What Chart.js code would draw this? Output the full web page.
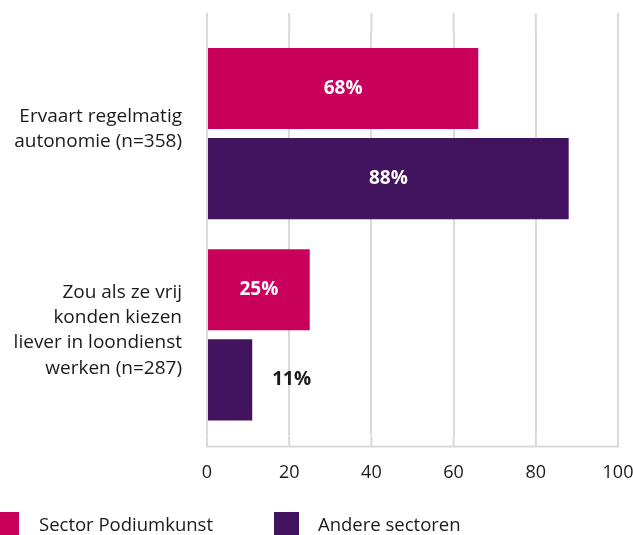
<!DOCTYPE html>
<html>
<head>
<meta charset="utf-8">
<script src="https://cdn.jsdelivr.net/npm/chart.js@4"></script>
<style>
    html, body { margin: 0; padding: 0; background: #fff; overflow: hidden; }
    #wrap { position: relative; width: 633px; height: 535px; }
    #legend { position: absolute; left: 0; top: 0; width: 633px; height: 535px; pointer-events: none;
              font-family: 'Open Sans', 'Noto Sans', sans-serif; font-size: 18.5px; color: #1a1a1a; }
    .lg-box { position: absolute; width: 25px; height: 24px; }
    .lg-text { position: absolute; line-height: 26px; white-space: nowrap; }
</style>
</head>
<body>
<div id="wrap">
    <canvas id="chart" width="633" height="535"></canvas>
    <div id="legend"></div>
</div>
<script>
// --- DATA ---
const categories = [
    ['Ervaart regelmatig', 'autonomie (n=358)'],
    ['Zou als ze vrij', 'konden kiezen', 'liever in loondienst', 'werken (n=287)']
];
const seriesNames = ['Sector Podiumkunst', 'Andere sectoren'];
const sectorValues = [66, 25];
const otherValues = [88, 11];
const sectorLabels = ['68%', '25%'];
const otherLabels = ['88%', '11%'];
const xTicks = [0, 20, 40, 60, 80, 100];

const colors = ['#CA005D', '#42145F'];
const gridColor = '#d9d9d9';
const FONT = "'Open Sans', 'Noto Sans', sans-serif";

// value labels inside (or next to) each bar
const barLabelPlugin = {
    id: 'barLabels',
    afterDatasetsDraw(chart) {
        const ctx = chart.ctx;
        const allLabels = [sectorLabels, otherLabels];
        ctx.save();
        ctx.font = 'bold 19px ' + FONT;
        ctx.textBaseline = 'middle';
        chart.data.datasets.forEach((ds, di) => {
            chart.getDatasetMeta(di).data.forEach((bar, i) => {
                const txt = allLabels[di][i];
                const w = ctx.measureText(txt).width;
                const barW = bar.x - bar.base;
                if (barW > w + 20) {
                    ctx.fillStyle = '#ffffff';
                    ctx.textAlign = 'center';
                    ctx.fillText(txt, bar.base + barW / 2, bar.y);
                } else {
                    ctx.fillStyle = '#1a1a1a';
                    ctx.textAlign = 'left';
                    ctx.fillText(txt, bar.x + 20, bar.y);
                }
            });
        });
        ctx.restore();
    }
};

// the reference grid runs past the plot area (20px above, 11px below) with the axis line at the bottom
const gridExtendPlugin = {
    id: 'gridExtend',
    beforeDatasetsDraw(chart) {
        const ctx = chart.ctx;
        const xs = chart.scales.x;
        const area = chart.chartArea;
        const top = area.top - 20;
        const bottom = area.bottom + 11;
        ctx.save();
        ctx.strokeStyle = gridColor;
        ctx.lineWidth = 2;
        xTicks.forEach(v => {
            const px = xs.getPixelForValue(v);
            ctx.beginPath();
            ctx.moveTo(px, top);
            ctx.lineTo(px, area.top);
            ctx.moveTo(px, area.bottom);
            ctx.lineTo(px, bottom);
            ctx.stroke();
        });
        ctx.beginPath();
        ctx.moveTo(xs.getPixelForValue(xTicks[0]) - 1, bottom);
        ctx.lineTo(xs.getPixelForValue(xTicks[xTicks.length - 1]) + 1, bottom);
        ctx.stroke();
        ctx.restore();
    }
};

const ctx = document.getElementById('chart').getContext('2d');
new Chart(ctx, {
    type: 'bar',
    data: {
        labels: categories,
        datasets: [
            { label: seriesNames[0], data: sectorValues, backgroundColor: colors[0],
              categoryPercentage: 0.8955, barPercentage: 0.9 },
            { label: seriesNames[1], data: otherValues, backgroundColor: colors[1],
              categoryPercentage: 0.8955, barPercentage: 0.9 }
        ]
    },
    options: {
        indexAxis: 'y',
        responsive: false,
        animation: false,
        layout: { padding: { top: 33, right: 15, bottom: 24, left: 0 } },
        scales: {
            x: {
                min: 0,
                max: 100,
                afterBuildTicks: (scale) => { scale.ticks = xTicks.map(v => ({ value: v })); },
                afterFit: (scale) => { scale.paddingRight = 0; },
                grid: { color: gridColor, lineWidth: 2, drawTicks: false },
                border: { display: false },
                ticks: { padding: 27, color: '#1a1a1a', font: { family: FONT, size: 18 } }
            },
            y: {
                grid: { display: false },
                border: { display: false },
                afterFit: (scale) => {
                    scale.width = 207;
                    scale.paddingTop = 0;
                    scale.paddingBottom = 0;
                },
                ticks: { padding: 17, labelOffset: -4.5, color: '#1a1a1a',
                         font: { family: FONT, size: 19, lineHeight: 1.34 } }
            }
        },
        plugins: {
            legend: { display: false },
            tooltip: { enabled: false }
        }
    },
    plugins: [barLabelPlugin, gridExtendPlugin]
});

// --- LEGEND (html, below the plot) ---
const legend = document.getElementById('legend');
const legendPos = [{ box: -6, text: 39 }, { box: 274, text: 318 }];
seriesNames.forEach((name, i) => {
    const box = document.createElement('div');
    box.className = 'lg-box';
    box.style.left = legendPos[i].box + 'px';
    box.style.top = '512px';
    box.style.background = colors[i];
    legend.appendChild(box);

    const txt = document.createElement('div');
    txt.className = 'lg-text';
    txt.style.left = legendPos[i].text + 'px';
    txt.style.top = '511px';
    txt.textContent = name;
    legend.appendChild(txt);
});
</script>
</body>
</html>
